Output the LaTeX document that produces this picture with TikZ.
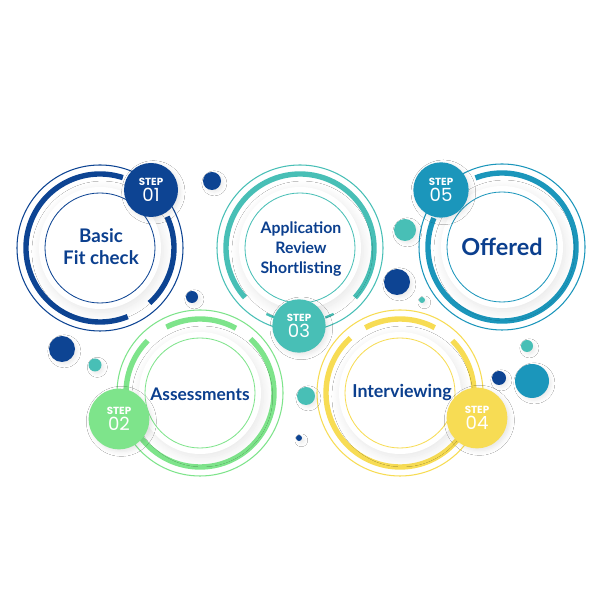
\documentclass[tikz,border=0pt]{standalone}
\usepackage{fontspec}
\setmainfont{Lato}
\newfontfamily\stepfont{Poppins}
\usetikzlibrary{shadows.blur}
\definecolor{stepnavy}{HTML}{0D4493}
\definecolor{stepteal}{HTML}{48BFB6}
\definecolor{stepblue}{HTML}{1B96BB}
\definecolor{stepgreen}{HTML}{7EE48B}
\definecolor{stepyellow}{HTML}{F7DC54}
\definecolor{ink}{HTML}{0B3F8E}
\tikzset{
  bold ring/.style={draw=#1, line width=4.6pt},
  hair ring/.style={draw=#1, line width=0.9pt},
  core/.style={fill=white, blur shadow={shadow xshift=2pt, shadow yshift=-3pt, shadow opacity=10, shadow blur radius=8pt, shadow blur steps=12}},
  rim/.style={draw=#1, line width=0.7pt},
  lab/.style={text=ink, font=\bfseries, align=center, inner sep=0pt},
  badge/.style={circle, fill=#1, text=white, inner sep=0pt, align=center,
    font=\stepfont\fontsize{15.5}{13.5}\selectfont,
    blur shadow={shadow xshift=2pt, shadow yshift=-2pt, shadow opacity=10, shadow blur radius=4pt}},
  dot/.style={fill=#1, blur shadow={shadow xshift=2pt, shadow yshift=-2pt, shadow opacity=8, shadow blur radius=3pt}},
}
\newcommand{\steptext}[1]{{\bfseries\fontsize{8.8}{9}\selectfont STEP}\\#1}

\begin{document}
\begin{tikzpicture}[x=0.03cm, y=0.03cm]
  \fill[white] (0,0) rectangle (600,600);
  \useasboundingbox (0,0) rectangle (600,600);

  \coordinate (fit) at (100,352);
  \coordinate (review) at (300,352);
  \coordinate (offer) at (502,353);
  \coordinate (assess) at (200,207);
  \coordinate (interview) at (400,207);

  % outer rings
  \draw[hair ring=stepnavy] (fit) circle[radius=83];
  \draw[bold ring=stepnavy] (fit) ++(72:74) arc[start angle=72, end angle=292, radius=74];
  \draw[bold ring=stepnavy] (fit) ++(-48:74) arc[start angle=-48, end angle=25, radius=74];

  \draw[hair ring=stepteal] (review) circle[radius=83];
  \draw[bold ring=stepteal] (review) ++(-42:74) arc[start angle=-42, end angle=222, radius=74];
  \draw[bold ring=stepteal, line width=2pt] (review) ++(-70:74) arc[start angle=-70, end angle=-63, radius=74];
  \draw[bold ring=stepteal, line width=2pt] (review) ++(-117:74) arc[start angle=-117, end angle=-110, radius=74];

  \draw[hair ring=stepblue] (offer) circle[radius=83];
  \draw[bold ring=stepblue] (offer) ++(157:74) arc[start angle=157, end angle=471, radius=74];

  \draw[hair ring=stepgreen] (assess) circle[radius=83];
  \draw[bold ring=stepgreen] (assess) ++(135:74) arc[start angle=135, end angle=407, radius=74];
  \draw[bold ring=stepgreen] (assess) ++(61:74) arc[start angle=61, end angle=117, radius=74];

  \draw[hair ring=stepyellow] (interview) circle[radius=83];
  \draw[bold ring=stepyellow] (interview) ++(132:74) arc[start angle=132, end angle=405, radius=74];
  \draw[bold ring=stepyellow] (interview) ++(62:74) arc[start angle=62, end angle=118, radius=74];

  % white cores
  \foreach \c/\col in {fit/stepnavy, review/stepteal, offer/stepblue, assess/stepgreen, interview/stepyellow} {
    \fill[core] (\c) circle[radius=61];
    \draw[rim=\col] (\c) circle[radius=55];
  }

  \node[lab, font=\bfseries\fontsize{16}{19}\selectfont] (basic) at (101,353) {Basic\\Fit check};
  \node[lab, font=\bfseries\fontsize{13.5}{17}\selectfont] (apply) at (301,351) {Application\\Review\\Shortlisting};
  \node[lab, font=\bfseries\fontsize{20}{22}\selectfont] (offered) at (502,353) {Offered};
  \node[lab, font=\bfseries\fontsize{14.8}{16}\selectfont] (assessments) at (200,206) {Assessments};
  \node[lab, font=\bfseries\fontsize{15.2}{16}\selectfont] (interviewing) at (402,207) {Interviewing};

  % step badges
  \node[badge=stepnavy, minimum size=1.62cm] (step01) at (151,410) {\steptext{01}};
  \node[badge=stepteal, minimum size=1.6cm] (step03) at (299,274) {\steptext{03}};
  \node[badge=stepblue, minimum size=1.66cm] (step05) at (441,410) {\steptext{05}};
  \node[badge=stepgreen, minimum size=1.82cm] (step02) at (119,181) {\steptext{02}};
  \node[badge=stepyellow, minimum size=1.82cm] (step04) at (477,182) {\steptext{04}};

  % dots
  \foreach \p/\r/\col in {{(212,419)}/9/stepnavy, {(192,303)}/6/stepnavy, {(62,251)}/13/stepnavy,
      {(95,235)}/6.5/stepteal, {(405,370)}/11/stepteal, {(397,318)}/13/stepnavy,
      {(422,300)}/3/stepteal, {(306,204)}/9/stepteal, {(299,162)}/3/stepnavy,
      {(527,254)}/6/stepteal, {(499,222)}/7/stepnavy, {(532,219)}/17/stepblue}
    \fill[dot=\col] \p circle[radius=\r];
\end{tikzpicture}
\end{document}
